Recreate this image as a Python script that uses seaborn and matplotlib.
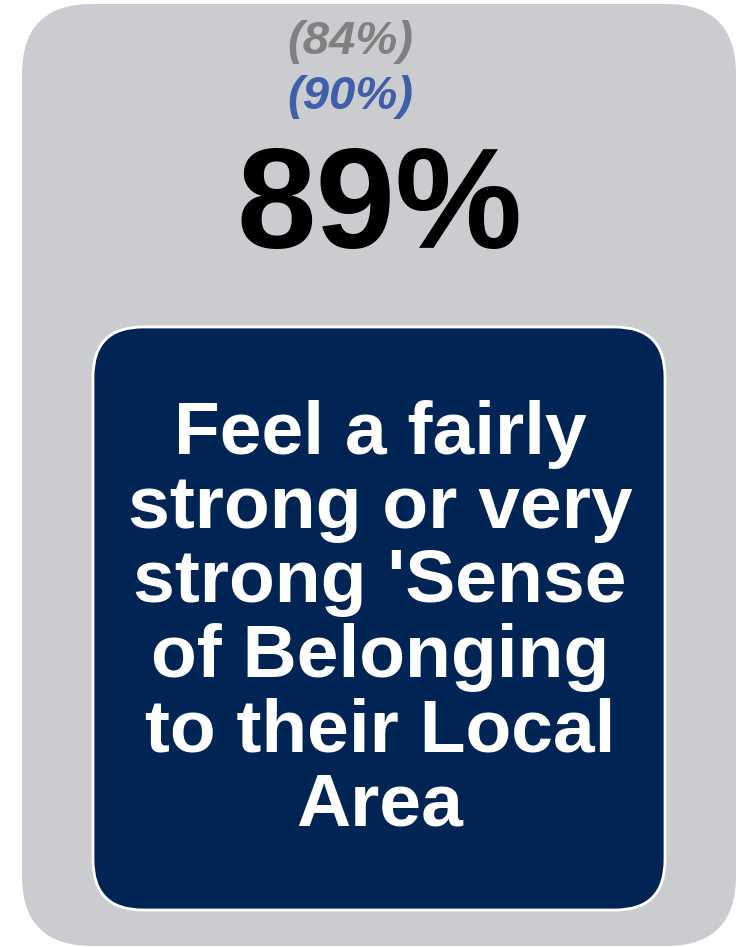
import matplotlib
matplotlib.use("Agg")
import matplotlib.pyplot as plt
import seaborn as sns
from matplotlib.patches import FancyBboxPatch

# data
compare_labels = ["previous", "benchmark"]
compare_values = [84, 90]
headline_value = 89
caption = "Feel a fairly\nstrong or very\nstrong 'Sense\nof Belonging\nto their Local\nArea"

sns.set_theme(style="white")
plt.rcParams['font.family'] = ['Liberation Sans', 'DejaVu Sans']

fig = plt.figure(figsize=(7.44, 9.47), dpi=100)
ax = fig.add_axes([0, 0, 1, 1])
ax.set_xlim(0, 744)
ax.set_ylim(947, 0)
ax.axis('off')

# grey card
grey = FancyBboxPatch((22 + 70, 4 + 70), 714 - 140, 942 - 140,
                      boxstyle="round,pad=70", fc="#cbccd0", ec="none")
ax.add_patch(grey)

# navy box
navy = FancyBboxPatch((93 + 50, 327 + 50), 572 - 100, 583 - 100,
                      boxstyle="round,pad=50", fc="#002554", ec="white", lw=2)
ax.add_patch(navy)

compare_colors = ["#808080", "#3f5fa8"]
compare_y = [42, 97]
for v, c, y in zip(compare_values, compare_colors, compare_y):
    ax.text(350, y, f"({v}%)", ha="center", va="center", fontsize=34,
            fontweight="bold", fontstyle="italic", color=c)

ax.text(380, 211, f"{headline_value}%", ha="center", va="center",
        fontsize=103, fontweight="bold", color="black")

ax.text(380, 620, caption, ha="center", va="center", fontsize=54,
        fontweight="bold", color="white", linespacing=1.1)

fig.savefig("out.png", dpi=100, facecolor="white")
